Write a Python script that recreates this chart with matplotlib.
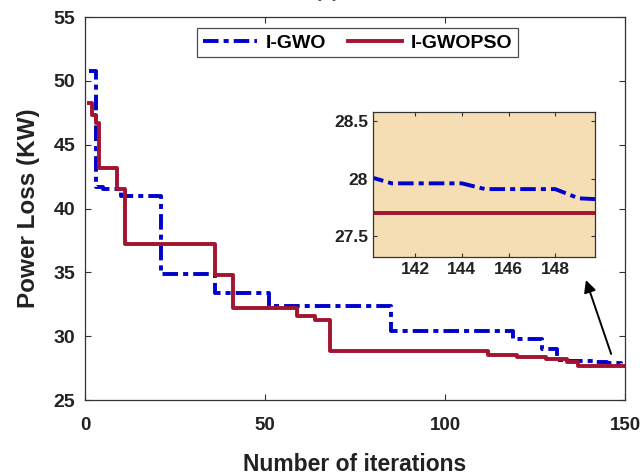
import matplotlib
matplotlib.use("Agg")
import matplotlib.pyplot as plt

plt.rcParams['font.family'] = ['Liberation Sans', 'DejaVu Sans']
plt.rcParams['font.weight'] = 'bold'

# Convergence curves: iteration at which the best power loss changes, and its new value
gwo_iter = [1, 3, 5, 10, 21, 36, 51, 85, 119, 127, 131, 134, 141, 145, 149, 150]
gwo_loss = [50.8, 41.7, 41.5, 41.0, 34.9, 33.4, 32.4, 30.4, 29.8, 29.0, 28.1,
            28.02, 27.96, 27.91, 27.83, 27.82]

gwopso_iter = [1, 2, 3, 4, 9, 11, 36, 41, 59, 64, 68, 112, 120, 128, 134, 137, 150]
gwopso_loss = [48.3, 47.3, 46.7, 43.2, 41.5, 37.2, 34.8, 32.2, 31.6, 31.3, 28.8,
               28.55, 28.35, 28.2, 28.0, 27.7, 27.7]

# Zoomed view of the final iterations
zoom_iter = [140, 141, 142, 143, 144, 145, 146, 147, 148, 149, 150]
zoom_gwo = [28.02, 27.96, 27.96, 27.96, 27.96, 27.91, 27.91, 27.91, 27.91, 27.83, 27.82]
zoom_gwopso = [27.7, 27.7, 27.7, 27.7, 27.7, 27.7, 27.7, 27.7, 27.7, 27.7, 27.7]

x_ticks = [0, 50, 100, 150]
y_ticks = [25, 30, 35, 40, 45, 50, 55]
zoom_x_ticks = [142, 144, 146, 148]
zoom_y_ticks = [27.5, 28, 28.5]

blue = '#0000CC'
red = '#A2142F'
dashdot = (0, (4, 1.3, 1.3, 1.3))
ink = '#222222'

fig = plt.figure(figsize=(6.42, 4.76), dpi=100)
ax = fig.add_axes([85 / 642, 1 - 400 / 476, 540 / 642, 383 / 476])

ax.plot(gwo_iter, gwo_loss, color=blue, lw=2.8, linestyle=dashdot,
        drawstyle='steps-post', label='I-GWO')
ax.plot(gwopso_iter, gwopso_loss, color=red, lw=2.8,
        drawstyle='steps-post', label='I-GWOPSO')

ax.set_xlim(0, 150)
ax.set_ylim(25, 55)
ax.set_xticks(x_ticks)
ax.set_yticks(y_ticks)
ax.tick_params(direction='in', top=True, right=True, length=4, width=0.8,
               colors='#333333', labelcolor=ink)
ax.tick_params(axis='x', labelsize=13.5, pad=12)
ax.tick_params(axis='y', labelsize=14, pad=7)
for s in ax.spines.values():
    s.set_color('#333333')
    s.set_linewidth(0.9)
ax.set_xlabel('Number of iterations', fontsize=16.5, fontweight='bold',
              color=ink, labelpad=14)
ax.set_ylabel('Power Loss (KW)', fontsize=17.5, fontweight='bold',
              color=ink, labelpad=10)

leg = ax.legend(loc='upper center', bbox_to_anchor=(0.505, 0.971), ncol=2,
                fontsize=14, handlelength=2.8, frameon=True, fancybox=False,
                edgecolor=ink, borderpad=0.3, borderaxespad=0,
                columnspacing=1.1, handletextpad=0.45)
leg.get_frame().set_linewidth(0.9)

ax.annotate('', xy=(138.9, 34.6), xytext=(146.4, 28.4),
            arrowprops=dict(arrowstyle='-|>', color='black', lw=1.4,
                            mutation_scale=18))

fig.text(0.51, 0.997, '(c)', ha='center', va='bottom', fontsize=14,
         color='#555555')

# Inset with the last iterations
ins = fig.add_axes([373 / 642, 1 - 257 / 476, 222 / 642, 145 / 476])
ins.set_facecolor('#F5DEB3')
ins.plot(zoom_iter, zoom_gwo, color=blue, lw=2.8, linestyle=dashdot)
ins.plot(zoom_iter, zoom_gwopso, color=red, lw=2.8)
ins.set_xlim(140.2, 149.7)
ins.set_ylim(27.32, 28.58)
ins.set_xticks(zoom_x_ticks)
ins.set_yticks(zoom_y_ticks)
ins.set_yticklabels(['27.5', '28', '28.5'])
ins.tick_params(direction='in', top=True, right=True, labelsize=12.5,
                length=3, width=0.8, colors='#333333', labelcolor=ink)
for s in ins.spines.values():
    s.set_color('#333333')
    s.set_linewidth(0.9)

fig.savefig('out.png', dpi=100)
